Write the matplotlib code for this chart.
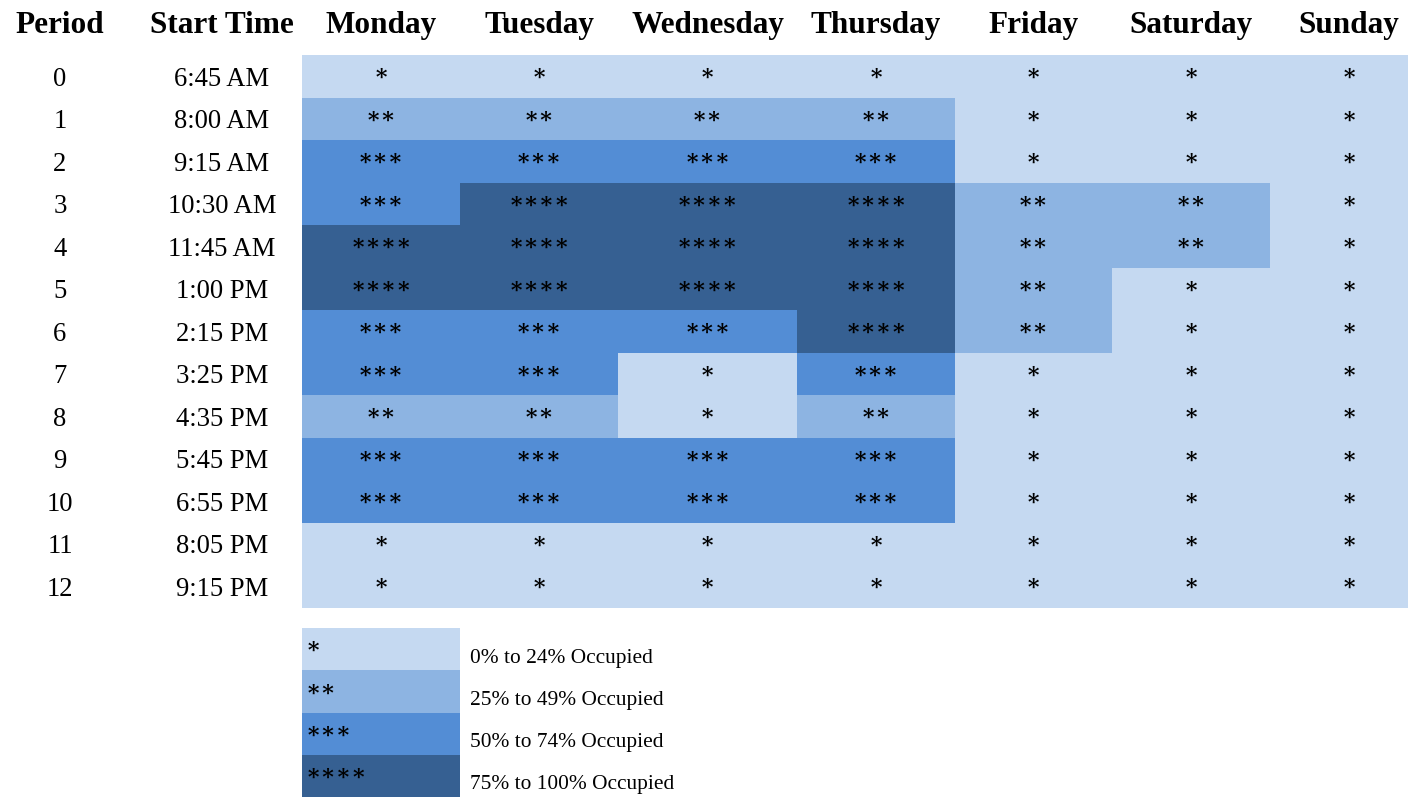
import matplotlib.pyplot as plt
import numpy as np
from matplotlib.colors import ListedColormap

plt.rcParams['font.family'] = ['Liberation Serif', 'DejaVu Serif']

# data
days = ['Monday', 'Tuesday', 'Wednesday', 'Thursday', 'Friday', 'Saturday', 'Sunday']
periods = list(range(13))
start_times = ['6:45 AM', '8:00 AM', '9:15 AM', '10:30 AM', '11:45 AM', '1:00 PM', '2:15 PM',
               '3:25 PM', '4:35 PM', '5:45 PM', '6:55 PM', '8:05 PM', '9:15 PM']
# occupancy level 1..4 per period (rows) and day (columns)
levels = [
    [1, 1, 1, 1, 1, 1, 1],
    [2, 2, 2, 2, 1, 1, 1],
    [3, 3, 3, 3, 1, 1, 1],
    [3, 4, 4, 4, 2, 2, 1],
    [4, 4, 4, 4, 2, 2, 1],
    [4, 4, 4, 4, 2, 1, 1],
    [3, 3, 3, 4, 2, 1, 1],
    [3, 3, 1, 3, 1, 1, 1],
    [2, 2, 1, 2, 1, 1, 1],
    [3, 3, 3, 3, 1, 1, 1],
    [3, 3, 3, 3, 1, 1, 1],
    [1, 1, 1, 1, 1, 1, 1],
    [1, 1, 1, 1, 1, 1, 1],
]
legend_labels = ['0% to 24% Occupied', '25% to 49% Occupied', '50% to 74% Occupied', '75% to 100% Occupied']
colors = ['#C5D9F1', '#8DB4E2', '#538DD5', '#366092']
STAR = '\u2217'

# layout (pixel coordinates); last column runs past the right edge
x_edges = [302, 460, 618, 797, 955, 1112, 1270, 1428]
row_h = 42.5
y_top = 55
y_edges = [y_top + row_h * i for i in range(len(periods) + 1)]

fig = plt.figure(figsize=(14.08, 7.97), dpi=100)
ax = fig.add_axes([0, 0, 1, 1])
ax.set_xlim(0, 1408)
ax.set_ylim(797, 0)
ax.axis('off')

cmap = ListedColormap(colors)
ax.pcolormesh(x_edges, y_edges, np.array(levels), cmap=cmap, vmin=0.5, vmax=4.5)

# header
head_y = 25
hs = 22.5
ax.text(60, head_y, 'Period', ha='center', va='center', fontsize=hs, fontweight='bold')
ax.text(222, head_y, 'Start Time', ha='center', va='center', fontsize=hs, fontweight='bold')
for j, d in enumerate(days):
    xc = (x_edges[j] + x_edges[j + 1]) / 2
    ax.text(xc, head_y, d, ha='center', va='center', fontsize=hs, fontweight='bold')

# rows
ss = 16
for i, p in enumerate(periods):
    yc = (y_edges[i] + y_edges[i + 1]) / 2
    ax.text(60, yc + 3, str(p), ha='center', va='center', fontsize=19.2)
    ax.text(222, yc + 3, start_times[i], ha='center', va='center', fontsize=19.2)
    for j in range(len(days)):
        xc = (x_edges[j] + x_edges[j + 1]) / 2
        ax.text(xc, yc - 1, STAR * levels[i][j], ha='center', va='center',
                fontsize=ss, fontweight='bold')

# legend
leg_top = 628
leg_h = 42.3
for k, lab in enumerate(legend_labels):
    y0 = leg_top + leg_h * k
    ax.bar(381, leg_h, width=158, bottom=y0, color=colors[k], linewidth=0)
    ax.text(306, y0 + 20, STAR * (k + 1), ha='left', va='center', fontsize=ss, fontweight='bold')
    ax.text(470, y0 + 30, lab, ha='left', va='center', fontsize=15.4)

fig.savefig('out.png', dpi=100)
